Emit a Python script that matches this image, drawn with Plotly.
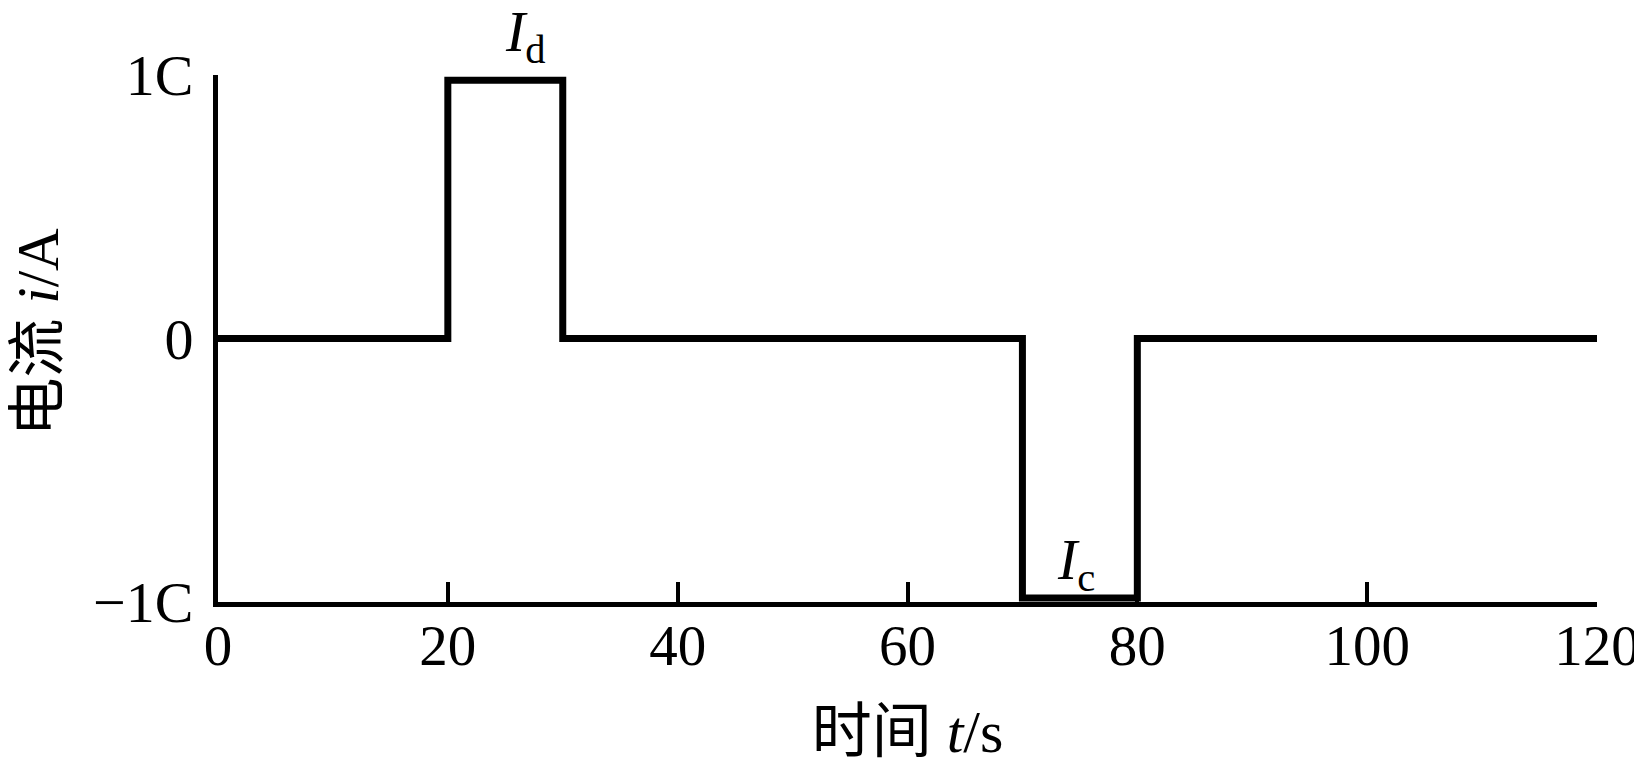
import plotly.graph_objects as go

# Data: step current profile
time_s = [0, 20, 20, 30, 30, 70, 70, 80, 80, 120]
current = [0, 0, 0.98, 0.98, 0, 0, -0.985, -0.985, 0, 0]

x_ticks = [0, 20, 40, 60, 80, 100, 120]
x_ticklabels = ["0", "20", "40", "60", "80", "100", "120"]
y_ticks = [-1, 0, 1]
y_ticklabels = ["\u22121C", "0", "1C"]

label_names = ["<i>I</i><sub>d</sub>", "<i>I</i><sub>c</sub>"]
label_x = [26.8, 74.7]
label_y = [1, -1]

x_title = "时间 <i>t</i>/s"
y_title = "电流 <i>i</i>/A"

FONT = "Liberation Serif, Times New Roman, Noto Sans CJK SC, serif"

fig = go.Figure()
fig.add_trace(go.Scatter(
    x=time_s, y=current, mode="lines",
    line=dict(color="black", width=7),
    cliponaxis=False, showlegend=False, hoverinfo="skip",
))

for name, xv, yv, ys in zip(label_names, label_x, label_y, [40, 39]):
    fig.add_annotation(x=xv, y=yv, text=name, showarrow=False,
                       xanchor="center", yanchor="middle", yshift=ys,
                       font=dict(family=FONT, size=58, color="black"))

# y-axis title as rotated annotation (placed further left than axis titles allow)
fig.add_annotation(xref="paper", x=0, yref="y", y=0, text=y_title,
                   showarrow=False, textangle=-90,
                   xanchor="center", yanchor="middle", xshift=-181, yshift=6,
                   font=dict(family=FONT, size=59, color="black"))

fig.update_layout(
    width=1642, height=766,
    margin=dict(l=210, r=53, t=67, b=172, autoexpand=False),
    paper_bgcolor="white", plot_bgcolor="white",
    font=dict(family=FONT, size=58, color="black"),
    xaxis=dict(
        range=[0, 120], tickvals=x_ticks, ticktext=x_ticklabels,
        showgrid=False, zeroline=False, showline=True, automargin=False,
        linecolor="black", linewidth=5,
        ticks="inside", ticklen=20, tickwidth=4, tickcolor="black",
        tickfont=dict(family=FONT, size=57),
        ticklabelstandoff=-10,
        title=dict(text=x_title, font=dict(family=FONT, size=60), standoff=35),
    ),
    yaxis=dict(
        range=[-1, 1], tickvals=y_ticks, ticktext=y_ticklabels,
        showgrid=False, zeroline=False, showline=True, automargin=False,
        linecolor="black", linewidth=5,
        ticks="inside", ticklen=23, tickwidth=4, tickcolor="black",
        tickfont=dict(family=FONT, size=58),
        ticklabelstandoff=8,
    ),
)

fig.write_html("out.html")
